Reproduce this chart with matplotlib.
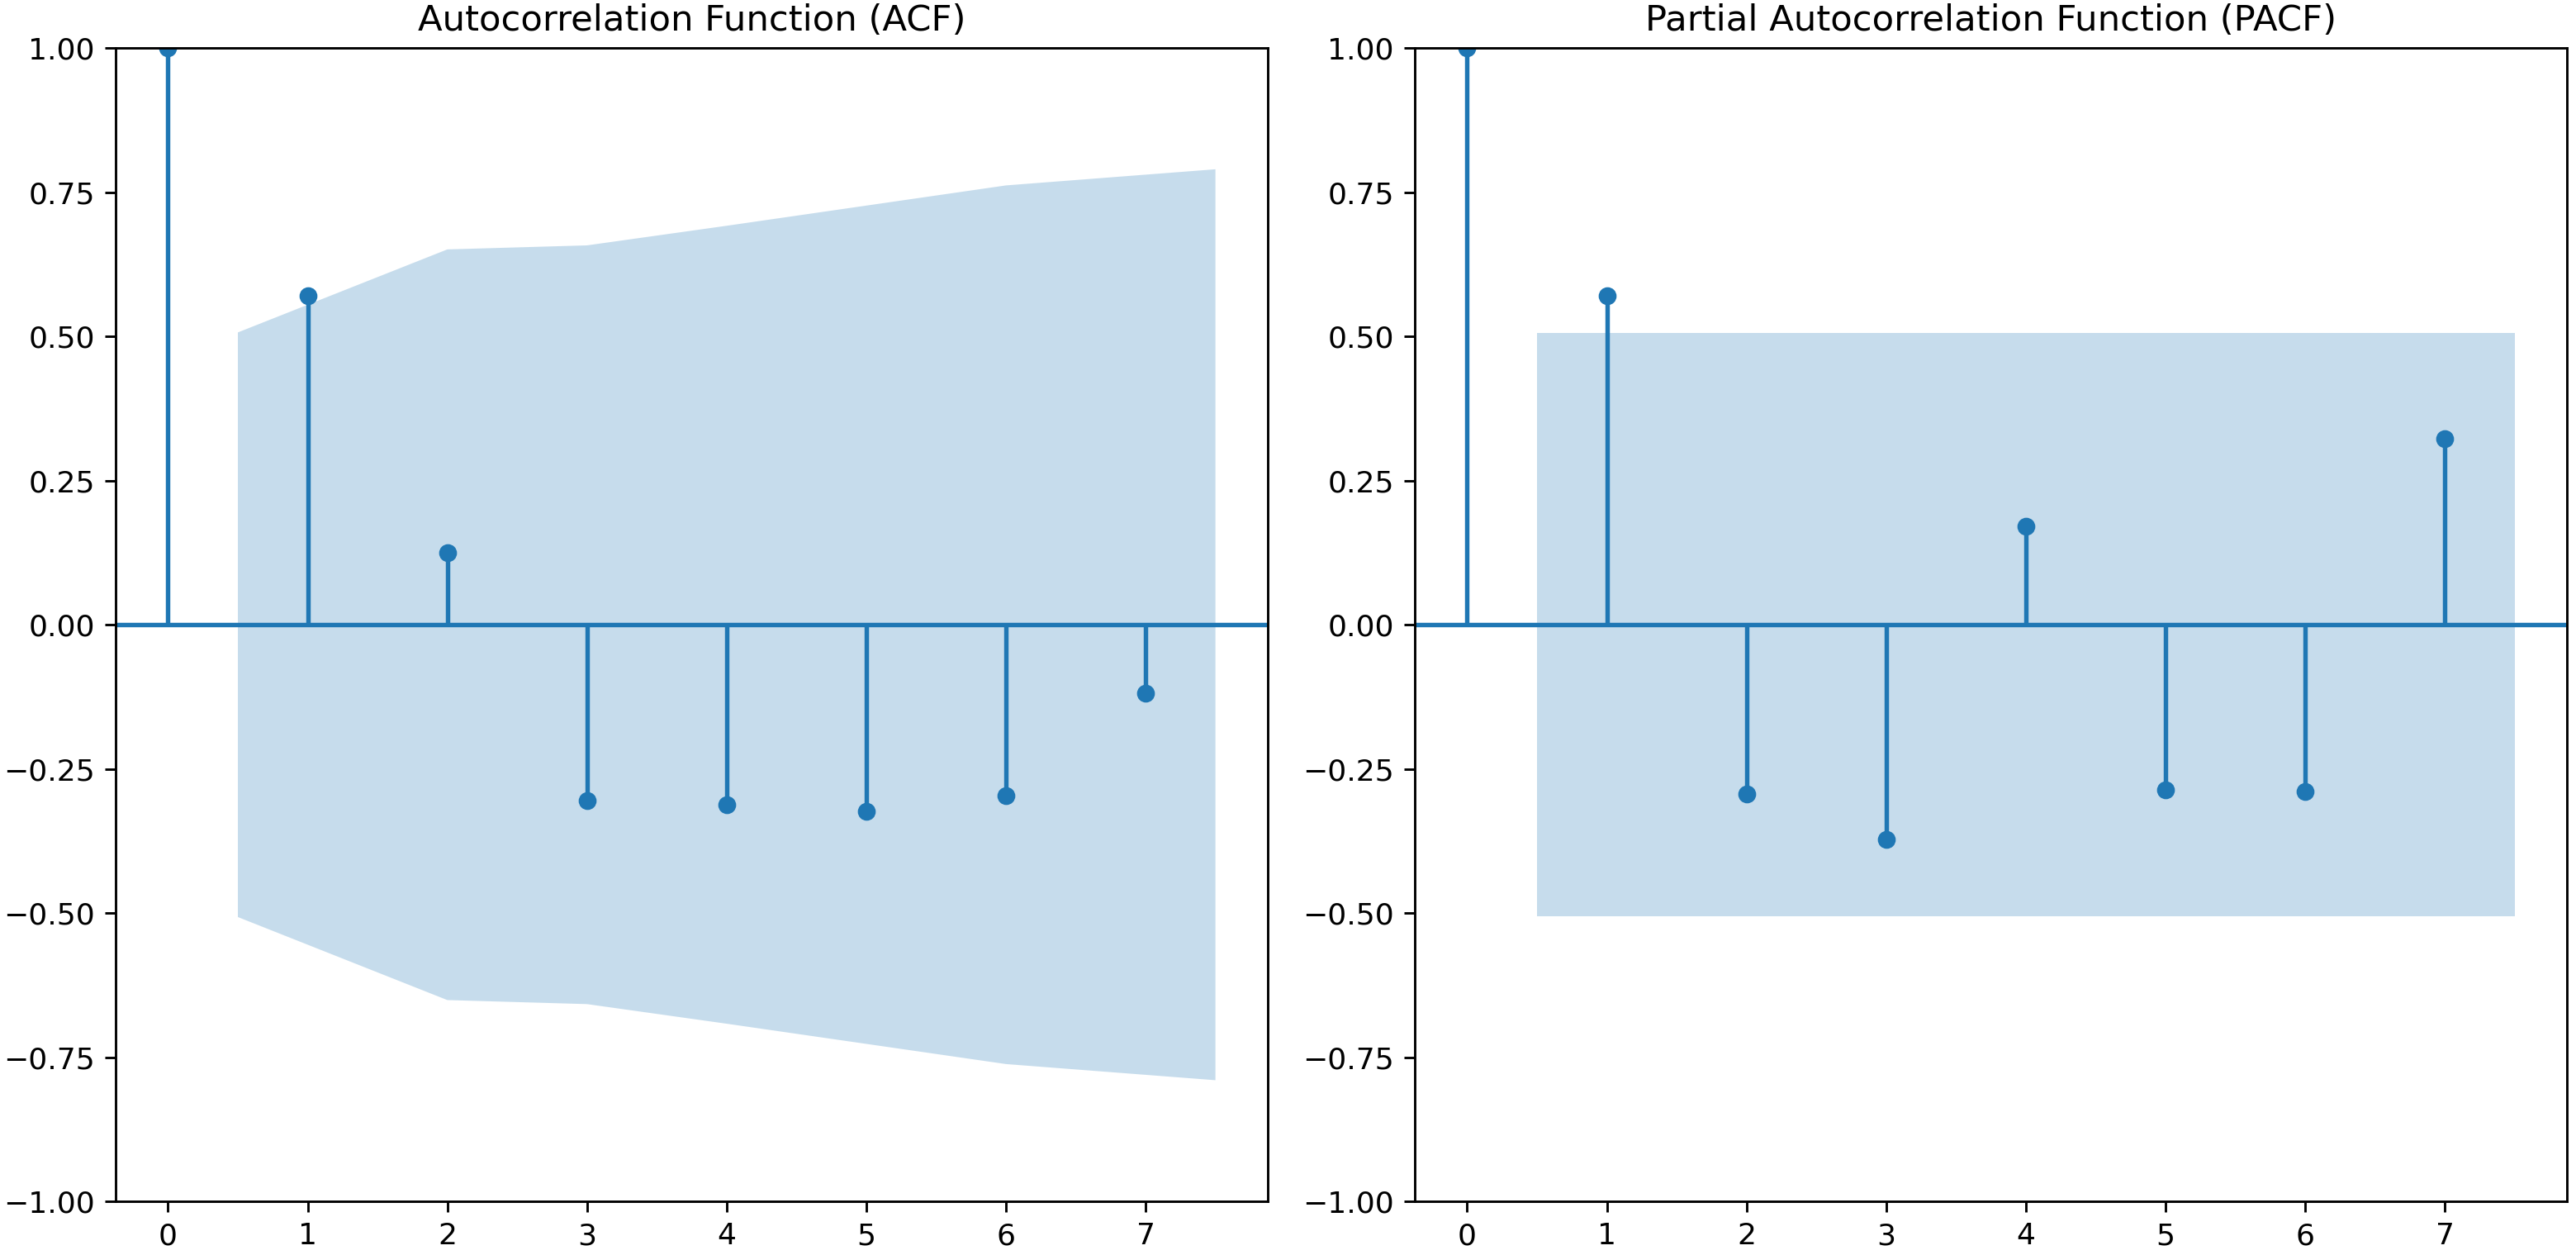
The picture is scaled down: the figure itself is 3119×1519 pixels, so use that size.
import numpy as np
from matplotlib import pyplot as plt

lags = np.arange(8)

# values
acf_vals = [1.0, 0.570, 0.125, -0.305, -0.312, -0.323, -0.297, -0.118]
acf_conf = [0.507, 0.651, 0.658, 0.692, 0.727, 0.762, 0.790]   # half width, lags 1..7

pacf_vals = [1.0, 0.570, -0.293, -0.373, 0.171, -0.286, -0.289, 0.323]
pacf_conf = [0.506, 0.506, 0.506, 0.506, 0.506, 0.506, 0.506]


def corr_plot(ax, vals, conf, title):
    ax.vlines(lags, [0], vals)
    ax.axhline()
    ax.margins(0.05)
    ax.plot(lags, vals, marker='o', markersize=5, linestyle='None')
    ax.set_title(title)
    ax.set_ylim(-1, 1)
    # band starts half a lag before lag 1 and ends half a lag after the last one
    bx = lags[1:].astype(float)
    bx[0] -= 0.5
    bx[-1] += 0.5
    c = np.array(conf)
    ax.fill_between(bx, -c, c, alpha=0.25)


fig, (ax1, ax2) = plt.subplots(1, 2, figsize=(3119 / 260, 1519 / 260), dpi=260)
plt.subplots_adjust(left=0.0449, right=0.9965, bottom=0.0428, top=0.9616, wspace=0.1276)

corr_plot(ax1, acf_vals, acf_conf, 'Autocorrelation Function (ACF)')
corr_plot(ax2, pacf_vals, pacf_conf, 'Partial Autocorrelation Function (PACF)')

plt.savefig('out.png', dpi=260)
